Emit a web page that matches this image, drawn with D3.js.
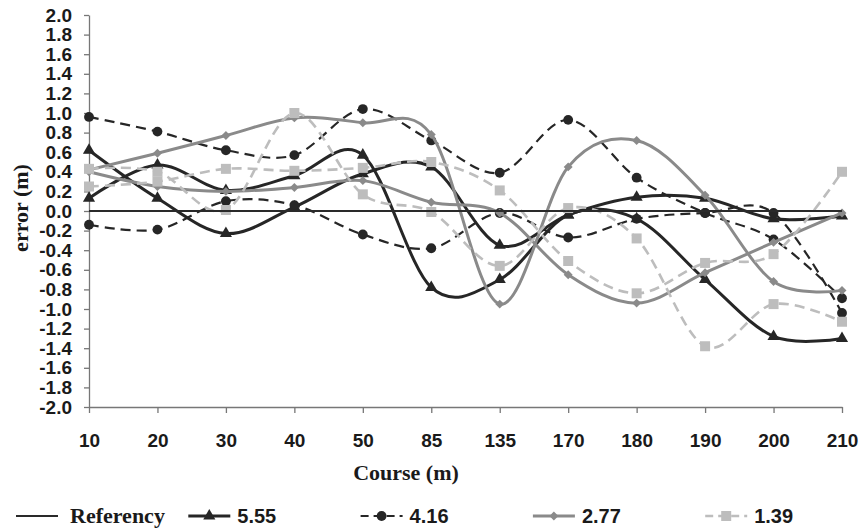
<!DOCTYPE html>
<html>
<head>
<meta charset="utf-8">
<script src="https://cdn.jsdelivr.net/npm/d3@7"></script>
<style>
  body { margin: 0; background: #fff; }
  .axis text { font-family: "Liberation Sans", Arial, sans-serif; font-weight: bold; font-size: 19px; fill: #1a1a1a; }
  .axis path, .axis line { stroke: #777; stroke-width: 1.3; }
  .title { font-family: "Liberation Serif", "Times New Roman", serif; font-weight: bold; font-size: 22px; fill: #1a1a1a; }
  .legend-num { font-family: "Liberation Sans", Arial, sans-serif; font-weight: bold; font-size: 20px; fill: #1a1a1a; }
</style>
</head>
<body>
<div id="chart"></div>
<script>
// Course positions (categories on the x axis)
const courses = ['10', '20', '30', '40', '50', '85', '135', '170', '180', '190', '200', '210'];
const yTicks = [-2.0, -1.8, -1.6, -1.4, -1.2, -1.0, -0.8, -0.6, -0.4, -0.2, 0.0, 0.2, 0.4, 0.6, 0.8, 1.0, 1.2, 1.4, 1.6, 1.8, 2.0];

// error values (m), two runs per speed
const referency = [0, 0, 0, 0, 0, 0, 0, 0, 0, 0, 0, 0];
const v555a = [0.62, 0.13, -0.23, 0.04, 0.38, 0.45, -0.35, -0.04, 0.14, 0.13, -0.08, -0.05];
const v555b = [0.13, 0.47, 0.21, 0.36, 0.57, -0.78, -0.70, -0.04, -0.08, -0.70, -1.28, -1.30];
const v416a = [0.96, 0.81, 0.62, 0.57, 1.04, 0.72, 0.39, 0.93, 0.34, -0.02, -0.29, -0.89];
const v416b = [-0.14, -0.19, 0.10, 0.06, -0.24, -0.38, -0.02, -0.27, -0.08, -0.02, -0.02, -1.04];
const v277a = [0.42, 0.59, 0.77, 0.95, 0.90, 0.78, -0.95, 0.45, 0.72, 0.16, -0.72, -0.81];
const v277b = [0.40, 0.25, 0.20, 0.24, 0.31, 0.09, -0.02, -0.65, -0.94, -0.63, -0.32, -0.02];
const v139a = [0.43, 0.40, 0.01, 1.00, 0.17, -0.01, -0.56, 0.03, -0.28, -1.38, -0.95, -1.13];
const v139b = [0.25, 0.30, 0.43, 0.41, 0.44, 0.50, 0.21, -0.51, -0.84, -0.53, -0.44, 0.40];

const legendLabels = ['Referency', '5.55', '4.16', '2.77', '1.39'];

// Styles per speed group
const styles = {
  ref:  { color: '#2a2a2a', width: 2.2, dash: null,   marker: null },
  s555: { color: '#262626', width: 3,   dash: null,   marker: 'triangle' },
  s416: { color: '#262626', width: 2.2, dash: '10,6', marker: 'circle' },
  s277: { color: '#8a8a8a', width: 3,   dash: null,   marker: 'diamond' },
  s139: { color: '#bdbdbd', width: 2.6, dash: '10,6', marker: 'square' }
};

const series = [
  { values: v555a, style: styles.s555 },
  { values: v555b, style: styles.s555 },
  { values: v416a, style: styles.s416 },
  { values: v416b, style: styles.s416 },
  { values: v277a, style: styles.s277 },
  { values: v277b, style: styles.s277 },
  { values: v139a, style: styles.s139 },
  { values: v139b, style: styles.s139 },
  { values: referency, style: styles.ref }
];

const W = 861, H = 531;
const plot = { left: 89, right: 842, top: 15, bottom: 407 };

const svg = d3.select('#chart').append('svg')
  .attr('width', W)
  .attr('height', H);

const x = d3.scalePoint()
  .domain(courses)
  .range([plot.left, plot.right])
  .padding(0);

const y = d3.scaleLinear()
  .domain([-2, 2])
  .range([plot.bottom, plot.top]);

// Axes
svg.append('g')
  .attr('class', 'axis')
  .attr('transform', `translate(${plot.left},0)`)
  .call(d3.axisLeft(y).tickValues(yTicks).tickFormat(d => d.toFixed(1)).tickSize(5).tickSizeOuter(0).tickPadding(12));

svg.append('g')
  .attr('class', 'axis')
  .attr('transform', `translate(0,${plot.bottom})`)
  .call(d3.axisBottom(x).tickSize(6).tickSizeOuter(0).tickPadding(21));

// Axis titles
svg.append('text')
  .attr('class', 'title')
  .attr('x', 406)
  .attr('y', 480)
  .attr('text-anchor', 'middle')
  .text('Course (m)');

svg.append('text')
  .attr('class', 'title')
  .attr('transform', 'translate(28,208) rotate(-90)')
  .attr('text-anchor', 'middle')
  .text('error (m)');

// Marker drawing
const markerPath = {
  triangle: d3.symbol(d3.symbolTriangle, 64)(),
  circle: d3.symbol(d3.symbolCircle, 76)(),
  diamond: d3.symbol(d3.symbolSquare, 40)(),
  square: d3.symbol(d3.symbolSquare, 100)()
};

function drawMarker(g, type, color, cx, cy) {
  if (!type) return;
  g.append('path')
    .attr('d', markerPath[type])
    .attr('fill', color)
    .attr('transform', `translate(${cx},${cy})` + (type === 'diamond' ? ' rotate(45)' : ''));
}

const line = d3.line()
  .x((d, i) => x(courses[i]))
  .y(d => y(d))
  .curve(d3.curveCardinal.tension(0));

series.forEach(s => {
  const g = svg.append('g');
  g.append('path')
    .datum(s.values)
    .attr('d', line)
    .attr('fill', 'none')
    .attr('stroke', s.style.color)
    .attr('stroke-width', s.style.width)
    .attr('stroke-dasharray', s.style.dash);
  s.values.forEach((v, i) => drawMarker(g, s.style.marker, s.style.color, x(courses[i]), y(v)));
});

// Legend
const legendStyles = [styles.ref, styles.s555, styles.s416, styles.s277, styles.s139];
legendStyles.forEach((st, i) => {
  const x0 = 16 + i * 172.3;
  const ly = 516;
  const g = svg.append('g');
  g.append('line')
    .attr('x1', x0).attr('x2', x0 + 42)
    .attr('y1', ly).attr('y2', ly)
    .attr('stroke', st.color)
    .attr('stroke-width', st.width)
    .attr('stroke-dasharray', st.dash ? '8,5' : null);
  drawMarker(g, st.marker, st.color, x0 + 21, ly);
  g.append('text')
    .attr('class', i === 0 ? 'title' : 'legend-num')
    .attr('x', x0 + (i === 0 ? 54 : 49))
    .attr('y', 523)
    .text(legendLabels[i]);
});
</script>
</body>
</html>
